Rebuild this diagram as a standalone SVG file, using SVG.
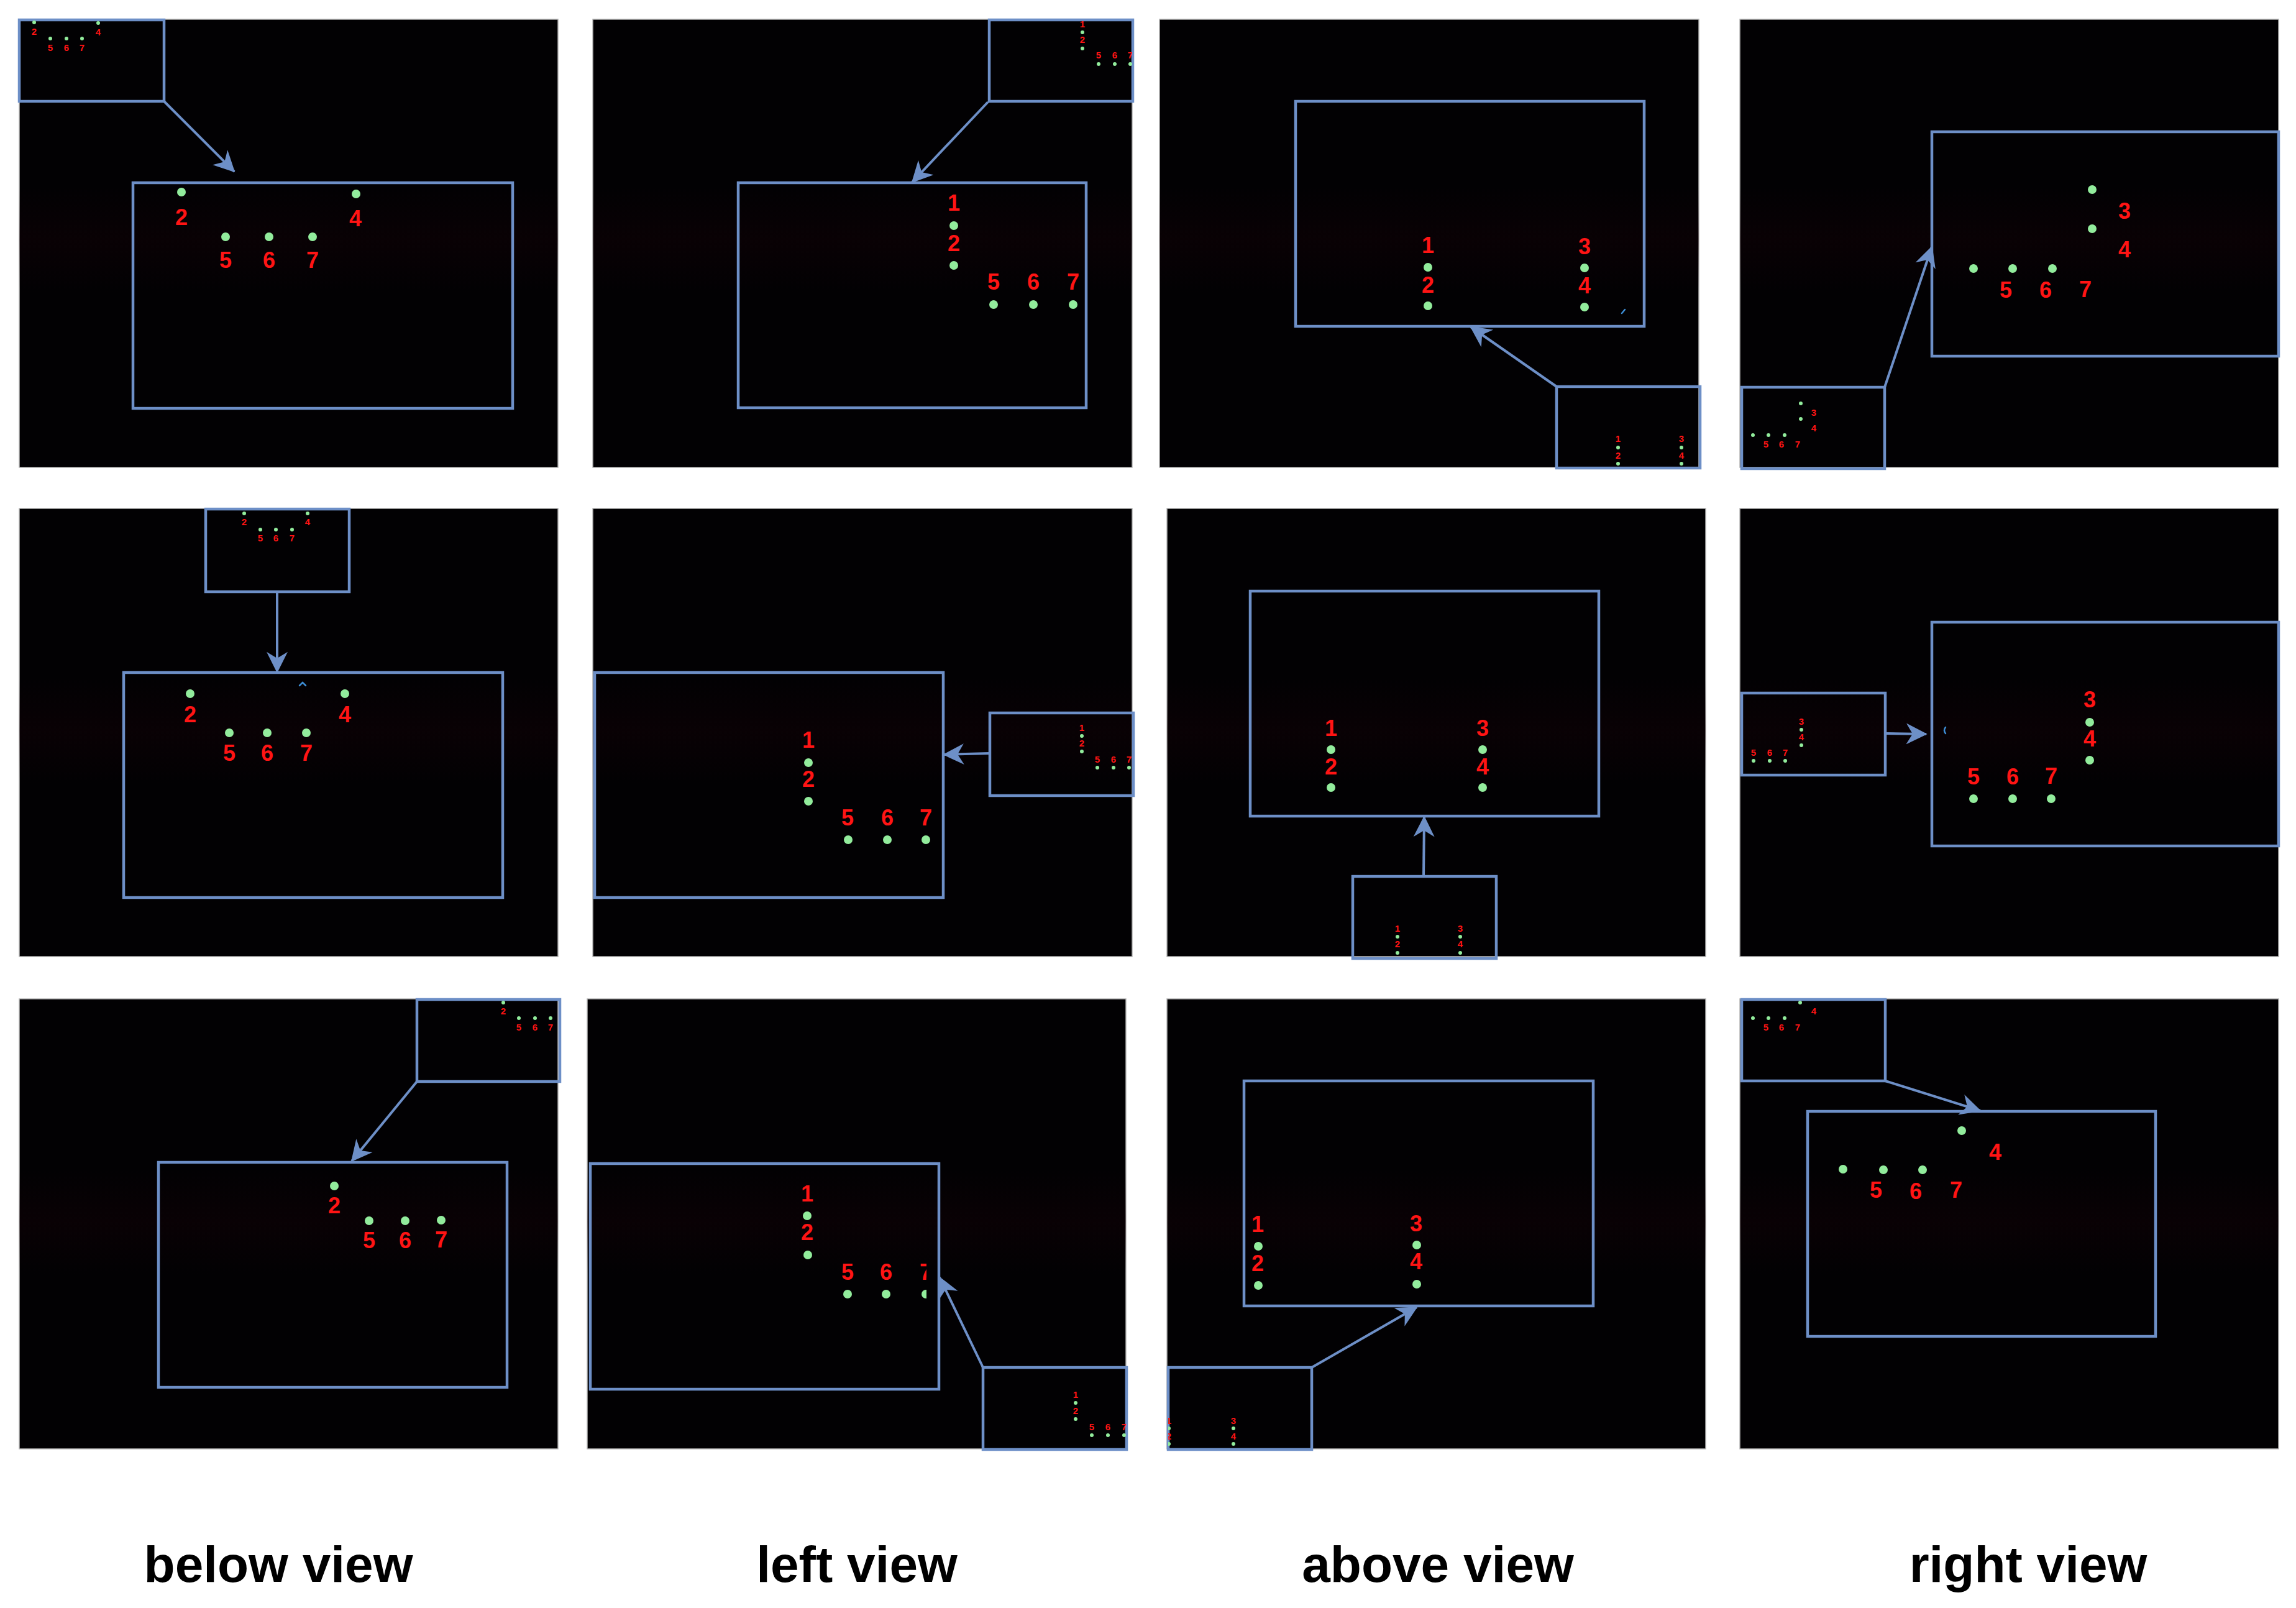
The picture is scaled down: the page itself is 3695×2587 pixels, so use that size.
<svg xmlns="http://www.w3.org/2000/svg" width="3695" height="2587" viewBox="0 0 3695 2587">
<style>
.bg{fill:#020103;stroke:#b4b4b4;stroke-width:1.5}
.haze{fill:url(#hz)}
.frame{fill:none;stroke:#6d8fc7;stroke-width:4.5}
.conn{fill:none;stroke:#6d8fc7;stroke-width:4;marker-end:url(#ah)}
.d{fill:#92ec9c}
.ds{fill:#92ec9c}
.l{font-family:"Liberation Sans",Arial,sans-serif;font-weight:bold;font-size:36px;fill:#ff1414;text-anchor:middle}
.ls{font-family:"Liberation Sans",Arial,sans-serif;font-weight:bold;font-size:15px;fill:#ff1414;text-anchor:middle}
.cap{font-family:"Liberation Sans",Arial,sans-serif;font-weight:bold;font-size:82px;fill:#000;text-anchor:middle}
.art{fill:none;stroke:#3d8ed6;stroke-width:2.5;stroke-linecap:round}
</style>
<defs>
<linearGradient id="hz" x1="0" y1="0" x2="0" y2="1">
<stop offset="0" stop-color="#1a0208" stop-opacity="0"/>
<stop offset="0.5" stop-color="#1a0208" stop-opacity="0.3"/>
<stop offset="1" stop-color="#1a0208" stop-opacity="0"/>
</linearGradient>
<marker id="ah" viewBox="0 0 10 10" refX="9.5" refY="5" markerWidth="40" markerHeight="34" markerUnits="userSpaceOnUse" orient="auto">
<path d="M0,0 L10,5 L0,10 L3,5 Z" fill="#6d8fc7"/>
</marker>
<clipPath id="c2i"><rect x="1592" y="32" width="230" height="131"/></clipPath>
<clipPath id="c10b"><rect x="950" y="1872" width="541" height="363"/></clipPath>
<clipPath id="c11i"><rect x="1880" y="2200" width="231" height="132"/></clipPath>
</defs>
<rect width="3695" height="2587" fill="#ffffff"/>

<!-- Row 1 -->
<g id="panel-below-1">
<rect class="bg" x="31" y="31" width="867" height="721"/>
<rect class="haze" x="31" y="300" width="867" height="170"/>
<g id="p1-inset">
<rect class="frame" x="31" y="32" width="233" height="131"/>
<circle class="ds" cx="55" cy="36" r="3"/><circle class="ds" cx="158" cy="37" r="3"/>
<circle class="ds" cx="81" cy="62" r="3"/><circle class="ds" cx="107" cy="62" r="3"/><circle class="ds" cx="132" cy="62" r="3"/>
<text class="ls" x="55" y="56">2</text><text class="ls" x="158" y="57">4</text>
<text class="ls" x="81" y="82">5</text><text class="ls" x="107" y="82">6</text><text class="ls" x="132" y="82">7</text>
</g>
<g id="p1-zoom">
<rect class="frame" x="214" y="294" width="611" height="363"/>
<circle class="d" cx="292" cy="309" r="7"/><circle class="d" cx="573" cy="312" r="7"/>
<circle class="d" cx="363" cy="381" r="7"/><circle class="d" cx="433" cy="381" r="7"/><circle class="d" cx="503" cy="381" r="7"/>
<text class="l" x="292" y="362">2</text><text class="l" x="572" y="364">4</text>
<text class="l" x="363" y="431">5</text><text class="l" x="433" y="431">6</text><text class="l" x="503" y="431">7</text>
</g>
</g>

<g id="panel-left-1">
<rect class="bg" x="954" y="31" width="868" height="721"/>
<rect class="haze" x="954" y="300" width="868" height="170"/>
<g id="p2-inset">
<rect class="frame" x="1592" y="32" width="231" height="131"/>
<g clip-path="url(#c2i)">
<circle class="ds" cx="1742" cy="52" r="3"/><circle class="ds" cx="1742" cy="78" r="3"/>
<circle class="ds" cx="1768" cy="103" r="3"/><circle class="ds" cx="1794" cy="103" r="3"/><circle class="ds" cx="1819" cy="103" r="3"/>
<text class="ls" x="1742" y="44">1</text><text class="ls" x="1742" y="69">2</text>
<text class="ls" x="1768" y="94">5</text><text class="ls" x="1794" y="94">6</text><text class="ls" x="1819" y="94">7</text>
</g>
</g>
<g id="p2-zoom">
<rect class="frame" x="1188" y="294" width="560" height="362"/>
<circle class="d" cx="1535" cy="363" r="7"/><circle class="d" cx="1535" cy="427" r="7"/>
<circle class="d" cx="1599" cy="490" r="7"/><circle class="d" cx="1663" cy="490" r="7"/><circle class="d" cx="1727" cy="490" r="7"/>
<text class="l" x="1535" y="339">1</text><text class="l" x="1535" y="404">2</text>
<text class="l" x="1599" y="466">5</text><text class="l" x="1663" y="466">6</text><text class="l" x="1727" y="466">7</text>
</g>
</g>

<g id="panel-above-1">
<rect class="bg" x="1866" y="31" width="868" height="721"/>
<rect class="haze" x="1866" y="300" width="868" height="170"/>
<g id="p3-zoom">
<rect class="frame" x="2085" y="163" width="561" height="362"/>
<circle class="d" cx="2298" cy="430" r="7"/><circle class="d" cx="2298" cy="492" r="7"/>
<circle class="d" cx="2550" cy="431" r="7"/><circle class="d" cx="2550" cy="494" r="7"/>
<text class="l" x="2298" y="407">1</text><text class="l" x="2298" y="471">2</text>
<text class="l" x="2550" y="409">3</text><text class="l" x="2550" y="472">4</text>
<path class="art" d="M2610,504 L2615,498"/>
</g>
<g id="p3-inset">
<rect class="frame" x="2505" y="622" width="231" height="131"/>
<circle class="ds" cx="2604" cy="720" r="3"/><circle class="ds" cx="2604" cy="746" r="3"/>
<circle class="ds" cx="2706" cy="720" r="3"/><circle class="ds" cx="2706" cy="746" r="3"/>
<text class="ls" x="2604" y="711">1</text><text class="ls" x="2604" y="738">2</text>
<text class="ls" x="2706" y="711">3</text><text class="ls" x="2706" y="738">4</text>
</g>
</g>

<g id="panel-right-1">
<rect class="bg" x="2800" y="31" width="867" height="721"/>
<rect class="haze" x="2800" y="300" width="867" height="170"/>
<g id="p4-zoom">
<rect class="frame" x="3109" y="212" width="558" height="361"/>
<circle class="d" cx="3367" cy="305" r="7"/><circle class="d" cx="3367" cy="368" r="7"/>
<circle class="d" cx="3176" cy="432" r="7"/><circle class="d" cx="3239" cy="432" r="7"/><circle class="d" cx="3303" cy="432" r="7"/>
<text class="l" x="3419" y="352">3</text><text class="l" x="3419" y="414">4</text>
<text class="l" x="3228" y="479">5</text><text class="l" x="3292" y="479">6</text><text class="l" x="3356" y="478">7</text>
</g>
<g id="p4-inset">
<rect class="frame" x="2803" y="623" width="230" height="131"/>
<circle class="ds" cx="2898" cy="649" r="3"/><circle class="ds" cx="2898" cy="674" r="3"/>
<circle class="ds" cx="2821" cy="700" r="3"/><circle class="ds" cx="2846" cy="700" r="3"/><circle class="ds" cx="2872" cy="700" r="3"/>
<text class="ls" x="2919" y="669">3</text><text class="ls" x="2919" y="694">4</text>
<text class="ls" x="2842" y="720">5</text><text class="ls" x="2867" y="720">6</text><text class="ls" x="2893" y="720">7</text>
</g>
</g>

<!-- Row 2 -->
<g id="panel-below-2">
<rect class="bg" x="31" y="818" width="867" height="721"/>
<rect class="haze" x="31" y="1090" width="867" height="170"/>
<g id="p5-inset">
<rect class="frame" x="331" y="819" width="231" height="133"/>
<circle class="ds" cx="393" cy="826" r="3"/><circle class="ds" cx="495" cy="826" r="3"/>
<circle class="ds" cx="419" cy="852" r="3"/><circle class="ds" cx="444" cy="852" r="3"/><circle class="ds" cx="470" cy="852" r="3"/>
<text class="ls" x="393" y="845">2</text><text class="ls" x="495" y="845">4</text>
<text class="ls" x="419" y="871">5</text><text class="ls" x="444" y="871">6</text><text class="ls" x="470" y="871">7</text>
</g>
<g id="p5-zoom">
<rect class="frame" x="199" y="1082" width="610" height="362"/>
<circle class="d" cx="306" cy="1116" r="7"/><circle class="d" cx="555" cy="1116" r="7"/>
<circle class="d" cx="369" cy="1179" r="7"/><circle class="d" cx="430" cy="1179" r="7"/><circle class="d" cx="493" cy="1179" r="7"/>
<text class="l" x="306" y="1162">2</text><text class="l" x="555" y="1162">4</text>
<text class="l" x="369" y="1224">5</text><text class="l" x="430" y="1224">6</text><text class="l" x="493" y="1224">7</text>
<path class="art" d="M482,1103 L487,1098 L492,1103"/>
</g>
</g>

<g id="panel-left-2">
<rect class="bg" x="954" y="818" width="868" height="721"/>
<rect class="haze" x="954" y="1090" width="868" height="170"/>
<g id="p6-zoom">
<rect class="frame" x="957" y="1082" width="561" height="362"/>
<circle class="d" cx="1301" cy="1227" r="7"/><circle class="d" cx="1301" cy="1289" r="7"/>
<circle class="d" cx="1365" cy="1351" r="7"/><circle class="d" cx="1428" cy="1351" r="7"/><circle class="d" cx="1490" cy="1351" r="7"/>
<text class="l" x="1301" y="1203">1</text><text class="l" x="1301" y="1266">2</text>
<text class="l" x="1364" y="1328">5</text><text class="l" x="1428" y="1328">6</text><text class="l" x="1490" y="1328">7</text>
</g>
<g id="p6-inset">
<rect class="frame" x="1593" y="1147" width="231" height="133"/>
<circle class="ds" cx="1741" cy="1184" r="3"/><circle class="ds" cx="1741" cy="1209" r="3"/>
<circle class="ds" cx="1766" cy="1235" r="3"/><circle class="ds" cx="1792" cy="1235" r="3"/><circle class="ds" cx="1817" cy="1235" r="3"/>
<text class="ls" x="1741" y="1176">1</text><text class="ls" x="1741" y="1201">2</text>
<text class="ls" x="1766" y="1227">5</text><text class="ls" x="1792" y="1227">6</text><text class="ls" x="1817" y="1227">7</text>
</g>
</g>

<g id="panel-above-2">
<rect class="bg" x="1878" y="818" width="867" height="721"/>
<rect class="haze" x="1878" y="1090" width="867" height="170"/>
<g id="p7-zoom">
<rect class="frame" x="2012" y="951" width="561" height="362"/>
<circle class="d" cx="2142" cy="1206" r="7"/><circle class="d" cx="2142" cy="1267" r="7"/>
<circle class="d" cx="2386" cy="1206" r="7"/><circle class="d" cx="2386" cy="1267" r="7"/>
<text class="l" x="2142" y="1184">1</text><text class="l" x="2142" y="1246">2</text>
<text class="l" x="2386" y="1184">3</text><text class="l" x="2386" y="1246">4</text>
</g>
<g id="p7-inset">
<rect class="frame" x="2177" y="1410" width="231" height="132"/>
<circle class="ds" cx="2249" cy="1507" r="3"/><circle class="ds" cx="2249" cy="1533" r="3"/>
<circle class="ds" cx="2350" cy="1507" r="3"/><circle class="ds" cx="2350" cy="1533" r="3"/>
<text class="ls" x="2249" y="1499">1</text><text class="ls" x="2249" y="1524">2</text>
<text class="ls" x="2350" y="1499">3</text><text class="ls" x="2350" y="1524">4</text>
</g>
</g>

<g id="panel-right-2">
<rect class="bg" x="2800" y="818" width="867" height="721"/>
<rect class="haze" x="2800" y="1090" width="867" height="170"/>
<g id="p8-inset">
<rect class="frame" x="2803" y="1115" width="231" height="132"/>
<circle class="ds" cx="2899" cy="1174" r="3"/><circle class="ds" cx="2899" cy="1199" r="3"/>
<circle class="ds" cx="2822" cy="1224" r="3"/><circle class="ds" cx="2848" cy="1224" r="3"/><circle class="ds" cx="2873" cy="1224" r="3"/>
<text class="ls" x="2899" y="1166">3</text><text class="ls" x="2899" y="1191">4</text>
<text class="ls" x="2822" y="1216">5</text><text class="ls" x="2848" y="1216">6</text><text class="ls" x="2873" y="1216">7</text>
</g>
<g id="p8-zoom">
<rect class="frame" x="3109" y="1001" width="558" height="360"/>
<circle class="d" cx="3363" cy="1162" r="7"/><circle class="d" cx="3363" cy="1223" r="7"/>
<circle class="d" cx="3176" cy="1285" r="7"/><circle class="d" cx="3239" cy="1285" r="7"/><circle class="d" cx="3301" cy="1285" r="7"/>
<text class="l" x="3363" y="1138">3</text><text class="l" x="3363" y="1201">4</text>
<text class="l" x="3176" y="1262">5</text><text class="l" x="3239" y="1262">6</text><text class="l" x="3301" y="1261">7</text>
<path class="art" d="M3131,1170 Q3127,1175 3131,1180"/>
</g>
</g>

<!-- Row 3 -->
<g id="panel-below-3">
<rect class="bg" x="31" y="1607" width="867" height="724"/>
<rect class="haze" x="31" y="1880" width="867" height="170"/>
<g id="p9-inset">
<rect class="frame" x="671" y="1608" width="230" height="132"/>
<circle class="ds" cx="810" cy="1613" r="3"/>
<circle class="ds" cx="835" cy="1638" r="3"/><circle class="ds" cx="861" cy="1638" r="3"/><circle class="ds" cx="886" cy="1638" r="3"/>
<text class="ls" x="810" y="1632">2</text>
<text class="ls" x="835" y="1658">5</text><text class="ls" x="861" y="1658">6</text><text class="ls" x="886" y="1658">7</text>
</g>
<g id="p9-zoom">
<rect class="frame" x="255" y="1870" width="561" height="362"/>
<circle class="d" cx="538" cy="1908" r="7"/>
<circle class="d" cx="594" cy="1964" r="7"/><circle class="d" cx="652" cy="1964" r="7"/><circle class="d" cx="710" cy="1963" r="7"/>
<text class="l" x="538" y="1952">2</text>
<text class="l" x="594" y="2008">5</text><text class="l" x="652" y="2008">6</text><text class="l" x="710" y="2007">7</text>
</g>
</g>

<g id="panel-left-3">
<rect class="bg" x="945" y="1607" width="867" height="724"/>
<rect class="haze" x="945" y="1880" width="867" height="170"/>
<g id="p10-zoom">
<rect class="frame" x="950" y="1872" width="561" height="363"/>
<g clip-path="url(#c10b)">
<circle class="d" cx="1299" cy="1956" r="7"/><circle class="d" cx="1300" cy="2019" r="7"/>
<circle class="d" cx="1364" cy="2082" r="7"/><circle class="d" cx="1426" cy="2082" r="7"/><circle class="d" cx="1490" cy="2082" r="7"/>
<text class="l" x="1299" y="1933">1</text><text class="l" x="1299" y="1995">2</text>
<text class="l" x="1364" y="2059">5</text><text class="l" x="1426" y="2059">6</text><text class="l" x="1490" y="2059">7</text>
</g>
</g>
<g id="p10-inset">
<rect class="frame" x="1582" y="2200" width="231" height="132"/>
<circle class="ds" cx="1731" cy="2257" r="3"/><circle class="ds" cx="1731" cy="2283" r="3"/>
<circle class="ds" cx="1757" cy="2309" r="3"/><circle class="ds" cx="1783" cy="2309" r="3"/><circle class="ds" cx="1809" cy="2309" r="3"/>
<text class="ls" x="1731" y="2249">1</text><text class="ls" x="1731" y="2275">2</text>
<text class="ls" x="1757" y="2301">5</text><text class="ls" x="1783" y="2301">6</text><text class="ls" x="1809" y="2301">7</text>
</g>
</g>

<g id="panel-above-3">
<rect class="bg" x="1878" y="1607" width="867" height="724"/>
<rect class="haze" x="1878" y="1880" width="867" height="170"/>
<g id="p11-zoom">
<rect class="frame" x="2002" y="1739" width="562" height="362"/>
<circle class="d" cx="2025" cy="2005" r="7"/><circle class="d" cx="2025" cy="2068" r="7"/>
<circle class="d" cx="2280" cy="2003" r="7"/><circle class="d" cx="2280" cy="2066" r="7"/>
<text class="l" x="2024" y="1982">1</text><text class="l" x="2024" y="2045">2</text>
<text class="l" x="2279" y="1981">3</text><text class="l" x="2279" y="2042">4</text>
</g>
<g id="p11-inset">
<rect class="frame" x="1880" y="2200" width="231" height="132"/>
<g clip-path="url(#c11i)">
<circle class="ds" cx="1881" cy="2298" r="3"/><circle class="ds" cx="1881" cy="2323" r="3"/>
<circle class="ds" cx="1985" cy="2298" r="3"/><circle class="ds" cx="1985" cy="2323" r="3"/>
<text class="ls" x="1881" y="2291">1</text><text class="ls" x="1881" y="2316">2</text>
<text class="ls" x="1985" y="2291">3</text><text class="ls" x="1985" y="2316">4</text>
</g>
</g>
</g>

<g id="panel-right-3">
<rect class="bg" x="2800" y="1607" width="867" height="724"/>
<rect class="haze" x="2800" y="1880" width="867" height="170"/>
<g id="p12-inset">
<rect class="frame" x="2803" y="1608" width="231" height="131"/>
<circle class="ds" cx="2897" cy="1613" r="3"/>
<circle class="ds" cx="2821" cy="1638" r="3"/><circle class="ds" cx="2846" cy="1638" r="3"/><circle class="ds" cx="2872" cy="1638" r="3"/>
<text class="ls" x="2919" y="1632">4</text>
<text class="ls" x="2842" y="1658">5</text><text class="ls" x="2867" y="1658">6</text><text class="ls" x="2893" y="1658">7</text>
</g>
<g id="p12-zoom">
<rect class="frame" x="2909" y="1788" width="560" height="362"/>
<circle class="d" cx="3157" cy="1819" r="7"/>
<circle class="d" cx="2966" cy="1881" r="7"/><circle class="d" cx="3031" cy="1882" r="7"/><circle class="d" cx="3094" cy="1882" r="7"/>
<text class="l" x="3211" y="1866">4</text>
<text class="l" x="3019" y="1927">5</text><text class="l" x="3083" y="1929">6</text><text class="l" x="3148" y="1927">7</text>
</g>
</g>

<g id="connectors">
<line class="conn" x1="264" y1="163" x2="377" y2="276"/>
<line class="conn" x1="1590" y1="164" x2="1468" y2="293"/>
<line class="conn" x1="2505" y1="622" x2="2367" y2="526"/>
<line class="conn" x1="3033" y1="623" x2="3109" y2="397"/>
<line class="conn" x1="446" y1="952" x2="446" y2="1081"/>
<line class="conn" x1="1593" y1="1212" x2="1519" y2="1214"/>
<line class="conn" x1="2291" y1="1410" x2="2292" y2="1314"/>
<line class="conn" x1="3034" y1="1180" x2="3100" y2="1181"/>
<line class="conn" x1="671" y1="1740" x2="566" y2="1868"/>
<line class="conn" x1="1582" y1="2200" x2="1512" y2="2055"/>
<line class="conn" x1="2111" y1="2200" x2="2280" y2="2103"/>
<line class="conn" x1="3034" y1="1739" x2="3187" y2="1787"/>
</g>

<g id="captions">
<text class="cap" x="448" y="2545">below view</text>
<text class="cap" x="1379" y="2545">left view</text>
<text class="cap" x="2314" y="2545">above view</text>
<text class="cap" x="3264" y="2545">right view</text>
</g>
</svg>
